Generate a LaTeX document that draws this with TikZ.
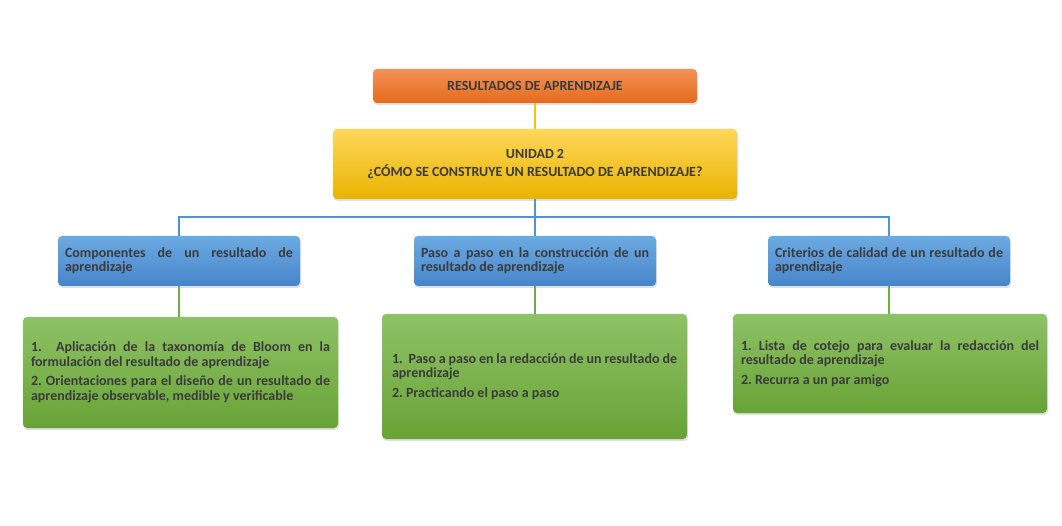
\documentclass[tikz,border=0pt]{standalone}
\usepackage{fontspec}
\setmainfont{Carlito}
\usetikzlibrary{shadows}
\definecolor{txtgray}{HTML}{3B3B3B}
\definecolor{orangetop}{HTML}{F39257}
\definecolor{orangebot}{HTML}{E56A1C}
\definecolor{yellowtop}{HTML}{FFD75A}
\definecolor{yellowbot}{HTML}{E9B400}
\definecolor{bluetop}{HTML}{6CAAE2}
\definecolor{bluebot}{HTML}{4785CB}
\definecolor{greentop}{HTML}{8EC266}
\definecolor{greenbot}{HTML}{68A336}
\definecolor{yline}{HTML}{FFC000}
\definecolor{bline}{HTML}{4F93D6}
\definecolor{gline}{HTML}{70AD47}
\hyphenpenalty=10000
\exhyphenpenalty=10000
\frenchspacing
\begin{document}
\begin{tikzpicture}[x=1pt,y=-1pt,
	every node/.style={rectangle,rounded corners=4pt,font=\bfseries\fontsize{14}{14.5}\selectfont,text=txtgray,
		drop shadow={shadow xshift=1pt,shadow yshift=-2pt,opacity=0.25}},
	orangebox/.style={top color=orangetop,bottom color=orangebot,minimum width=324,minimum height=34,align=center},
	yellowbox/.style={top color=yellowtop,bottom color=yellowbot,minimum width=404,minimum height=70,align=center},
	bluebox/.style={top color=bluetop,bottom color=bluebot,minimum height=50,inner xsep=7,text width=228,align=justify},
	greenbox/.style={top color=greentop,bottom color=greenbot,inner xsep=8,align=justify},
	link/.style={line width=1.4pt}]
\useasboundingbox (0,0) rectangle (1062,526);
\node[orangebox] (res) at (535,86) {RESULTADOS DE APRENDIZAJE};
\node[yellowbox] (unit) at (535,164) {UNIDAD 2\\[4pt]¿CÓMO SE CONSTRUYE UN RESULTADO DE APRENDIZAJE?};
\node[bluebox] (blue-1) at (179,261) {Componentes de un resultado de aprendizaje};
\node[bluebox] (blue-2) at (535,261) {Paso a paso en la construcción de un resultado de aprendizaje};
\node[bluebox] (blue-3) at (889,261) {Criterios de calidad de un resultado de aprendizaje};
\node[greenbox,minimum width=315,minimum height=111,text width=299] (green-1) at (180.5,372.5)
	{1.\ \ Aplicación de la taxonomía de Bloom en la formulación del resultado de aprendizaje\\[5pt]
	2. Orientaciones para el diseño de un resultado de aprendizaje observable, medible y verificable};
\node[greenbox,minimum width=305,minimum height=125,text width=285] (green-2) at (534.5,376.5)
	{1.\ \ Paso a paso en la redacción de un resultado de aprendizaje\\[5pt]
	2. Practicando el paso a paso};
\node[greenbox,minimum width=314,minimum height=99,text width=298] (green-3) at (890,363.5)
	{1. Lista de cotejo para evaluar la redacción del resultado de aprendizaje\\[5pt]
	2. Recurra a un par amigo};
\coordinate (bus) at (535,217);
\draw[link,yline] (res.south) -- (unit.north);
\draw[link,bline] (unit.south) -- (bus);
\foreach \x in {1,2,3} {
	\draw[link,bline] (bus) -| (blue-\x.north);
	\draw[link,gline] (blue-\x.south) -- (blue-\x.south |- green-\x.north);
}
\end{tikzpicture}
\end{document}
